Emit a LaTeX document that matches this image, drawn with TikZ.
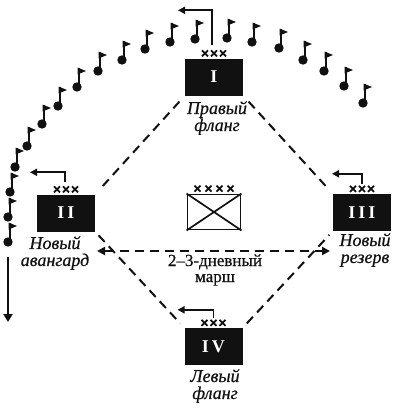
\documentclass[tikz,border=0pt]{standalone}
\usepackage{fontspec}
\setmainfont{Liberation Serif}
\usepackage{tikz}
\usetikzlibrary{calc,arrows.meta}
\definecolor{ink}{HTML}{111111}
\definecolor{paper}{HTML}{FFFFFF}
\newfontfamily\labfont{Liberation Serif}[FakeBold=0.6,Ligatures=TeX]
\tikzset{
  unit/.style={fill=ink, minimum width=58pt, minimum height=37pt, inner sep=0pt,
    text=paper, font=\bfseries\fontsize{18}{18}\selectfont},
  hq/.style={draw=ink, line width=1.9pt, minimum width=53pt, minimum height=35pt, inner sep=0pt},
  link/.style={draw=ink, line width=2pt, dash pattern=on 9pt off 6pt},
  march/.style={link, {Triangle[length=8pt,width=8pt]}-{Triangle[length=8pt,width=8pt]}},
  order/.style={draw=ink, line width=1.7pt, -{Triangle[length=7pt,width=7pt]}},
  route/.style={draw=ink, line width=1.8pt, -{Triangle[length=8pt,width=9pt]}},
  xmark/.style={draw=ink, line width=1.7pt},
  lab/.style={text=ink, align=center, font=\labfont\itshape\fontsize{18}{17}\selectfont},
  labm/.style={text=ink, align=center, font=\labfont\fontsize{17}{16}\selectfont},
}
\begin{document}
\begin{tikzpicture}[x=1pt,y=-1pt]
  \useasboundingbox[fill=paper] (0,0) rectangle (393,410);

  \node[unit] (I)   at (214,77)    {I};
  \node[unit] (II)  at (66,213)    {I\,I};
  \node[unit] (III) at (362,212.5) {I\,I\,I};
  \node[unit] (IV)  at (213.5,346.5) {I\,V};
  \node[hq]   (HQ)  at (214,212)   {};
  \draw[xmark] (HQ.north west) -- (HQ.south east) (HQ.north east) -- (HQ.south west);

  \node[lab]  (rflank) at (217,118) {Правый\\фланг};
  \node[lab]  (nav)    at (55,253)  {Новый\\авангард};
  \node[lab]  (nrez)   at (365,250) {Новый\\резерв};
  \node[lab]  (lflank) at (215,386) {Левый\\фланг};
  \node[labm] (days)   at (215,270) {2–3-дневный\\марш};

  % corps markers
  \foreach \u in {I,II,III,IV}
    \foreach \i in {-1,0,1}
      \draw[xmark] ($(\u.north)+(\i*9,-5)$) +(-3,-3) -- +(3,3) +(-3,3) -- +(3,-3);
  \foreach \i in {-1.5,-0.5,0.5,1.5}
    \draw[xmark] ($(HQ.north)+(\i*11,-5)$) +(-3,-3) -- +(3,3) +(-3,3) -- +(3,-3);

  \draw[order] ($(I.north)+(-2,-13)$) -- ++(0,-35) -- ++(-34,0);
  \draw[order] ($(II.north)+(-1,-12)$) -- ++(0,-10) -- ++(-35,0);
  \draw[order] ($(III.north)+(0,-10)$) -- ++(0,-10) -- ++(-30,0);
  \draw[order] ($(IV.north)+(0,-10)$) -- ++(0,-8) -- ++(-36,0);

  \draw[link, shorten <=8pt, shorten >=6pt] (I.south west) -- (II.north east);
  \draw[link, shorten <=8pt, shorten >=6pt] (I.south east) -- (III.north west);
  \draw[link, shorten <=5pt, shorten >=6pt] (II.south east) -- (IV.north west);
  \draw[link, shorten <=6pt, shorten >=5pt] (IV.north east) -- (III.south west);

  \coordinate (mL) at (97,251);
  \coordinate (mR) at (330,251);
  \draw[march] (mL) -- (mR);

  % flags of the wheeling column
  \foreach \x/\y in {8/242,8/217,10/192,15/167,27/146,42/124,58/106,77/87,98/71,122/60,
                     145/49,170/42,195/39,227/38,252/42,279/48,303/60,324/71,344/86,363/103}{
    \fill[ink] (\x,\y) circle (4.7pt);
    \draw[ink, line width=2pt] (\x+1.5,\y) -- (\x+1.5,\y-19);
    \fill[ink] (\x+0.5,\y-19.5) -- (\x+9,\y-16) -- (\x+0.5,\y-12.5) -- cycle;
  }
  \coordinate (dn0) at (8,257);
  \coordinate (dn1) at (8,322);
  \draw[route] (dn0) -- (dn1);
\end{tikzpicture}
\end{document}
